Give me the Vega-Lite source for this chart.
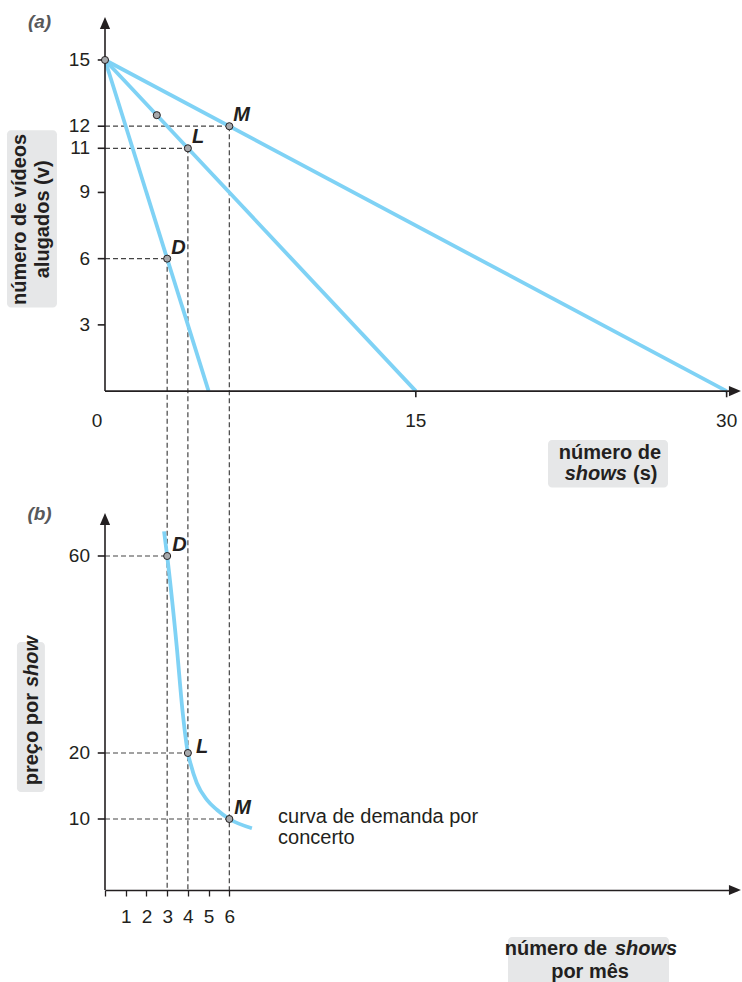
{
  "$schema": "https://vega.github.io/schema/vega-lite/v6.json",
  "width": 632,
  "height": 883,
  "autosize": {"type": "none"},
  "padding": {"left": 105, "top": 7, "right": 5, "bottom": 92},
  "background": "white",
  "config": {"view": {"stroke": null}, "font": "Liberation Sans"},
  "datasets": {
    "linesA": [
      {"line": "steep", "x": 0, "v": 15}, {"line": "steep", "x": 5, "v": 0},
      {"line": "mid", "x": 0, "v": 15}, {"line": "mid", "x": 15, "v": 0},
      {"line": "flat", "x": 0, "v": 15}, {"line": "flat", "x": 30, "v": 0}
    ],
    "ptsA": [
      {"x": 0, "v": 15, "lab": ""}, {"x": 2.5, "v": 12.5, "lab": ""},
      {"x": 3, "v": 6, "lab": "D"}, {"x": 4, "v": 11, "lab": "L"}, {"x": 6, "v": 12, "lab": "M"}
    ],
    "dashAh": [
      {"x": 0, "x2": 3, "v": 6}, {"x": 0, "x2": 4, "v": 11}, {"x": 0, "x2": 6, "v": 12}
    ],
    "dashAv": [
      {"x": 3, "v": 6, "v2": -22.6}, {"x": 4, "v": 11, "v2": -22.6}, {"x": 6, "v": 12, "v2": -22.6}
    ],
    "axisA": [
      {"x": 0, "x2": 0, "v": 0, "v2": 16.67},
      {"x": 0, "x2": 30.4, "v": 0, "v2": 0},
      {"x": -0.35, "x2": 0, "v": 3, "v2": 3},
      {"x": -0.35, "x2": 0, "v": 6, "v2": 6},
      {"x": -0.35, "x2": 0, "v": 9, "v2": 9},
      {"x": -0.35, "x2": 0, "v": 11, "v2": 11},
      {"x": -0.35, "x2": 0, "v": 12, "v2": 12},
      {"x": -0.35, "x2": 0, "v": 15, "v2": 15},
      {"x": 15, "x2": 15, "v": 0, "v2": -0.28},
      {"x": 30, "x2": 30, "v": 0, "v2": -0.28}
    ],
    "arrowUpA": [{"x": 0, "v": 16.67}],
    "arrowRightA": [{"x": 30.4, "v": 0}],
    "ylabA": [
      {"x": 0, "v": 15, "t": "15"}, {"x": 0, "v": 12, "t": "12"}, {"x": 0, "v": 11, "t": "11"},
      {"x": 0, "v": 9, "t": "9"}, {"x": 0, "v": 6, "t": "6"}, {"x": 0, "v": 3, "t": "3"}
    ],
    "xlabA": [
      {"x": -0.38, "v": 0, "t": "0"}, {"x": 15, "v": 0, "t": "15"}, {"x": 30, "v": 0, "t": "30"}
    ],
    "boxA": [
      {"x": -4.73, "x2": -2.32, "v": 11.82, "v2": 3.79},
      {"x": 21.38, "x2": 27.17, "v": -2.21, "v2": -4.37}
    ],
    "titleArot": [
      {"x": -4.10, "v": 7.78, "t": "número de vídeos"},
      {"x": -2.99, "v": 7.78, "t": "alugados (v)"}
    ],
    "titleAcenter": [{"x": 24.37, "v": -2.80, "t": "número de"}],
    "titleAleft": [{"x": 25.48, "v": -3.74, "t": "(s)"}],
    "titleAitalic": [{"x": 25.19, "v": -3.74, "t": "shows"}],
    "panelA": [{"x": -3.16, "v": 16.72, "t": "(a)"}],
    "demand": [
      {"x": 2.85, "p": 65.0}, {"x": 3, "p": 60}, {"x": 3.46, "p": 41.7}, {"x": 3.75, "p": 28.2},
      {"x": 4, "p": 20}, {"x": 4.11, "p": 18.6}, {"x": 4.43, "p": 15.45}, {"x": 4.92, "p": 12.9},
      {"x": 5.4, "p": 11.4}, {"x": 6, "p": 10}, {"x": 7.09, "p": 8.7}
    ],
    "ptsB": [
      {"x": 3, "p": 60, "lab": "D"}, {"x": 4, "p": 20, "lab": "L"}, {"x": 6, "p": 10, "lab": "M"}
    ],
    "dashBh": [
      {"x": 0, "x2": 3, "p": 60}, {"x": 0, "x2": 4, "p": 20}, {"x": 0, "x2": 6, "p": 10}
    ],
    "axisB": [
      {"x": 0, "x2": 0, "p": 0, "p2": 67.5},
      {"x": -0.35, "x2": 0, "p": 60, "p2": 60},
      {"x": -0.35, "x2": 0, "p": 20, "p2": 20},
      {"x": -0.35, "x2": 0, "p": 10, "p2": 10}
    ],
    "arrowUpB": [{"x": 0, "p": 67.5}],
    "arrowRightB": [{"x": 30.4, "p": 0}],
    "ylabB": [
      {"x": 0, "p": 60, "t": "60"}, {"x": 0, "p": 20, "t": "20"}, {"x": 0, "p": 10, "t": "10"}
    ],
    "boxB": [
      {"x": -4.25, "x2": -2.90, "p": 42.54, "p2": 14.09},
      {"x": 19.45, "x2": 27.22, "p": -6.62, "p2": -13.5}
    ],
    "titleBrotRight": [{"x": -3.52, "p": 32.18, "t": "preço por"}],
    "titleBrotItalic": [{"x": -3.52, "p": 33.4, "t": "show"}],
    "titleBright": [{"x": 24.23, "p": -8.31, "t": "número de"}],
    "titleBitalic": [{"x": 24.61, "p": -8.31, "t": "shows"}],
    "titleBcenter": [{"x": 23.41, "p": -11.55, "t": "por mês"}],
    "curveText": [
      {"x": 8.35, "p": 10.3, "t": "curva de demanda por"},
      {"x": 8.35, "p": 7.32, "t": "concerto"}
    ],
    "panelB": [{"x": -3.16, "p": 68.6, "t": "(b)"}]
  },
  "encoding": {
    "x": {
      "field": "x",
      "type": "quantitative",
      "scale": {"domain": [0, 30.5], "nice": false, "zero": false},
      "axis": {
        "values": [0, 1, 2, 3, 4, 5, 6],
        "labelExpr": "datum.value == 0 ? '' : datum.label",
        "title": null,
        "grid": false,
        "tickSize": 6,
        "tickColor": "#231f20",
        "tickWidth": 1.3,
        "domainColor": "#231f20",
        "domainWidth": 1.6,
        "labelFont": "Liberation Sans",
        "labelFontSize": 19,
        "labelColor": "#231f20",
        "labelPadding": 11,
        "labelAngle": 0,
        "labelFlush": false,
        "labelOverlap": false
      }
    }
  },
  "layer": [
    {
      "encoding": {
        "y": {"field": "v", "type": "quantitative", "scale": {"domain": [-22.6, 17.4], "nice": false, "zero": false}, "axis": null}
      },
      "layer": [
        {"data": {"name": "boxA"}, "mark": {"type": "rect", "color": "#e6e7e8", "cornerRadius": 4},
         "encoding": {"x2": {"field": "x2"}, "y2": {"field": "v2"}}},
        {"data": {"name": "dashAh"}, "mark": {"type": "rule", "color": "#444444", "strokeWidth": 1.2, "strokeDash": [5, 3]},
         "encoding": {"x2": {"field": "x2"}}},
        {"data": {"name": "dashAv"}, "mark": {"type": "rule", "color": "#444444", "strokeWidth": 1.2, "strokeDash": [5, 3]},
         "encoding": {"y2": {"field": "v2"}}},
        {"data": {"name": "linesA"}, "mark": {"type": "line", "color": "#7fd2f5", "strokeWidth": 3.8},
         "encoding": {"detail": {"field": "line"}}},
        {"data": {"name": "axisA"}, "mark": {"type": "rule", "color": "#231f20", "strokeWidth": 1.6},
         "encoding": {"x2": {"field": "x2"}, "y2": {"field": "v2"}}},
        {"data": {"name": "arrowUpA"}, "mark": {"type": "point", "shape": "M-0.85,1L0,-1L0.85,1Z", "size": 144, "filled": true, "color": "#231f20", "opacity": 1}},
        {"data": {"name": "arrowRightA"}, "mark": {"type": "point", "shape": "M-1,-0.85L1,0L-1,0.85Z", "size": 144, "filled": true, "color": "#231f20", "opacity": 1}},
        {"data": {"name": "ptsA"}, "mark": {"type": "point", "shape": "circle", "size": 50, "filled": true, "fill": "#a7a9ac", "stroke": "#231f20", "strokeWidth": 1, "opacity": 1}},
        {"data": {"name": "ptsA"}, "mark": {"type": "text", "font": "Liberation Sans", "fontSize": 20, "fontWeight": "bold", "fontStyle": "italic", "color": "#231f20", "align": "left", "baseline": "alphabetic", "dx": 4, "dy": -5},
         "encoding": {"text": {"field": "lab"}}},
        {"data": {"name": "ylabA"}, "mark": {"type": "text", "font": "Liberation Sans", "fontSize": 19, "color": "#231f20", "align": "right", "baseline": "middle", "dx": -15},
         "encoding": {"text": {"field": "t"}}},
        {"data": {"name": "xlabA"}, "mark": {"type": "text", "font": "Liberation Sans", "fontSize": 19, "color": "#231f20", "align": "center", "baseline": "middle", "dy": 30},
         "encoding": {"text": {"field": "t"}}},
        {"data": {"name": "titleArot"}, "mark": {"type": "text", "font": "Liberation Sans", "fontSize": 20, "fontWeight": "bold", "color": "#231f20", "align": "center", "baseline": "middle", "angle": 270},
         "encoding": {"text": {"field": "t"}}},
        {"data": {"name": "titleAcenter"}, "mark": {"type": "text", "font": "Liberation Sans", "fontSize": 20, "fontWeight": "bold", "color": "#231f20", "align": "center", "baseline": "middle"},
         "encoding": {"text": {"field": "t"}}},
        {"data": {"name": "titleAleft"}, "mark": {"type": "text", "font": "Liberation Sans", "fontSize": 20, "fontWeight": "bold", "color": "#231f20", "align": "left", "baseline": "middle"},
         "encoding": {"text": {"field": "t"}}},
        {"data": {"name": "titleAitalic"}, "mark": {"type": "text", "font": "Liberation Sans", "fontSize": 20, "fontWeight": "bold", "fontStyle": "italic", "color": "#231f20", "align": "right", "baseline": "middle"},
         "encoding": {"text": {"field": "t"}}},
        {"data": {"name": "panelA"}, "mark": {"type": "text", "font": "Liberation Sans", "fontSize": 19, "fontWeight": "bold", "fontStyle": "italic", "color": "#58595b", "align": "center", "baseline": "middle"},
         "encoding": {"text": {"field": "t"}}}
      ]
    },
    {
      "encoding": {
        "y": {"field": "p", "type": "quantitative", "scale": {"domain": [0, 10, 20, 60], "range": [883, 812, 746, 549], "nice": false, "zero": false}, "axis": null}
      },
      "layer": [
        {"data": {"name": "boxB"}, "mark": {"type": "rect", "color": "#e6e7e8", "cornerRadius": 4},
         "encoding": {"x2": {"field": "x2"}, "y2": {"field": "p2"}}},
        {"data": {"name": "dashBh"}, "mark": {"type": "rule", "color": "#444444", "strokeWidth": 1.2, "strokeDash": [5, 3]},
         "encoding": {"x2": {"field": "x2"}}},
        {"data": {"name": "demand"}, "mark": {"type": "line", "color": "#7fd2f5", "strokeWidth": 3.8, "interpolate": "monotone"}},
        {"data": {"name": "axisB"}, "mark": {"type": "rule", "color": "#231f20", "strokeWidth": 1.6},
         "encoding": {"x2": {"field": "x2"}, "y2": {"field": "p2"}}},
        {"data": {"name": "arrowUpB"}, "mark": {"type": "point", "shape": "M-0.85,1L0,-1L0.85,1Z", "size": 144, "filled": true, "color": "#231f20", "opacity": 1}},
        {"data": {"name": "arrowRightB"}, "mark": {"type": "point", "shape": "M-1,-0.85L1,0L-1,0.85Z", "size": 144, "filled": true, "color": "#231f20", "opacity": 1}},
        {"data": {"name": "ptsB"}, "mark": {"type": "point", "shape": "circle", "size": 50, "filled": true, "fill": "#a7a9ac", "stroke": "#231f20", "strokeWidth": 1, "opacity": 1}},
        {"data": {"name": "ptsB"}, "transform": [{"filter": "datum.lab != 'L'"}], "mark": {"type": "text", "font": "Liberation Sans", "fontSize": 20, "fontWeight": "bold", "fontStyle": "italic", "color": "#231f20", "align": "left", "baseline": "alphabetic", "dx": 5, "dy": -5},
         "encoding": {"text": {"field": "lab"}}},
        {"data": {"name": "ptsB"}, "transform": [{"filter": "datum.lab == 'L'"}], "mark": {"type": "text", "font": "Liberation Sans", "fontSize": 20, "fontWeight": "bold", "fontStyle": "italic", "color": "#231f20", "align": "left", "baseline": "alphabetic", "dx": 8, "dy": 0},
         "encoding": {"text": {"field": "lab"}}},
        {"data": {"name": "ylabB"}, "mark": {"type": "text", "font": "Liberation Sans", "fontSize": 19, "color": "#231f20", "align": "right", "baseline": "middle", "dx": -15},
         "encoding": {"text": {"field": "t"}}},
        {"data": {"name": "titleBrotRight"}, "mark": {"type": "text", "font": "Liberation Sans", "fontSize": 20, "fontWeight": "bold", "color": "#231f20", "align": "right", "baseline": "middle", "angle": 270},
         "encoding": {"text": {"field": "t"}}},
        {"data": {"name": "titleBrotItalic"}, "mark": {"type": "text", "font": "Liberation Sans", "fontSize": 20, "fontWeight": "bold", "fontStyle": "italic", "color": "#231f20", "align": "left", "baseline": "middle", "angle": 270},
         "encoding": {"text": {"field": "t"}}},
        {"data": {"name": "titleBright"}, "mark": {"type": "text", "font": "Liberation Sans", "fontSize": 20, "fontWeight": "bold", "color": "#231f20", "align": "right", "baseline": "middle"},
         "encoding": {"text": {"field": "t"}}},
        {"data": {"name": "titleBitalic"}, "mark": {"type": "text", "font": "Liberation Sans", "fontSize": 20, "fontWeight": "bold", "fontStyle": "italic", "color": "#231f20", "align": "left", "baseline": "middle"},
         "encoding": {"text": {"field": "t"}}},
        {"data": {"name": "titleBcenter"}, "mark": {"type": "text", "font": "Liberation Sans", "fontSize": 20, "fontWeight": "bold", "color": "#231f20", "align": "center", "baseline": "middle"},
         "encoding": {"text": {"field": "t"}}},
        {"data": {"name": "curveText"}, "mark": {"type": "text", "font": "Liberation Sans", "fontSize": 20, "color": "#231f20", "align": "left", "baseline": "middle"},
         "encoding": {"text": {"field": "t"}}},
        {"data": {"name": "panelB"}, "mark": {"type": "text", "font": "Liberation Sans", "fontSize": 19, "fontWeight": "bold", "fontStyle": "italic", "color": "#58595b", "align": "center", "baseline": "middle"},
         "encoding": {"text": {"field": "t"}}}
      ]
    }
  ],
  "resolve": {"scale": {"y": "independent"}}
}
